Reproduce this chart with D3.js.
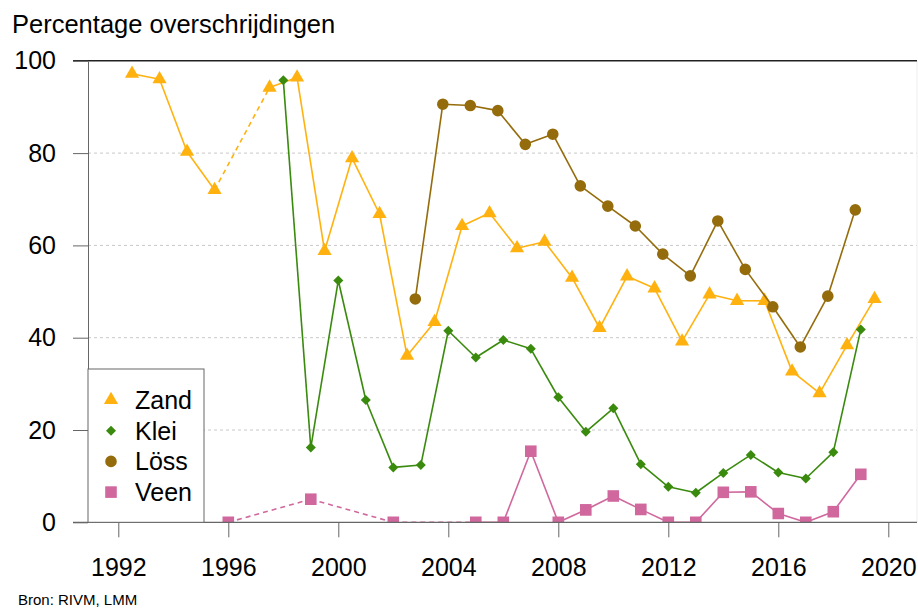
<!DOCTYPE html>
<html>
<head>
<meta charset="utf-8">
<script src="https://d3js.org/d3.v7.min.js"></script>
<style>
  body { margin: 0; background: #fff; }
  svg { display: block; font-family: "Liberation Sans", Arial, Helvetica, sans-serif; }
</style>
</head>
<body>
<div id="chart"></div>
<script>
// soil types
var categories = ["Zand", "Klei", "Löss", "Veen"];

// Zand is plotted half a year to the right, Löss slightly left of the year
var zandYears = [1992.5, 1993.5, 1994.5, 1995.5, 1997.5, 1998.5, 1999.5, 2000.5, 2001.5, 2002.5,
  2003.5, 2004.5, 2005.5, 2006.5, 2007.5, 2008.5, 2009.5, 2010.5, 2011.5, 2012.5,
  2013.5, 2014.5, 2015.5, 2016.5, 2017.5, 2018.5, 2019.5];
var zandValues = [97.2, 96.0, 80.3, 72.0, 94.2, 96.4, 58.8, 78.9, 66.8, 36.1,
  43.4, 64.2, 67.0, 59.4, 60.8, 53.0, 42.1, 53.3, 50.7, 39.2,
  49.4, 48.0, 48.0, 32.7, 28.0, 38.4, 48.4];

var kleiYears = [1998, 1999, 2000, 2001, 2002, 2003, 2004, 2005, 2006, 2007, 2008,
  2009, 2010, 2011, 2012, 2013, 2014, 2015, 2016, 2017, 2018, 2019];
var kleiValues = [95.8, 16.2, 52.4, 26.5, 11.9, 12.4, 41.5, 35.7, 39.5, 37.6, 27.1,
  19.6, 24.7, 12.6, 7.7, 6.4, 10.7, 14.6, 10.8, 9.5, 15.2, 41.8];

var lossYears = [2002.8, 2003.8, 2004.8, 2005.8, 2006.8, 2007.8, 2008.8, 2009.8, 2010.8,
  2011.8, 2012.8, 2013.8, 2014.8, 2015.8, 2016.8, 2017.8, 2018.8];
var lossValues = [48.4, 90.6, 90.3, 89.2, 81.9, 84.1, 72.9, 68.5, 64.2,
  58.1, 53.4, 65.3, 54.8, 46.7, 38.0, 49.0, 67.7];

var veenYears = [1996, 1999, 2002, 2005, 2006, 2007, 2008, 2009, 2010, 2011, 2012,
  2013, 2014, 2015, 2016, 2017, 2018, 2019];
var veenValues = [0, 5.0, 0, 0, 0, 15.4, 0, 2.7, 5.7, 2.8, 0,
  0, 6.5, 6.6, 1.9, 0, 2.3, 10.4];

var xTicks = [1992, 1996, 2000, 2004, 2008, 2012, 2016, 2020];
var yTicks = [0, 20, 40, 60, 80, 100];

var width = 918, height = 608;
var colors = { "Zand": "#ffb20f", "Klei": "#3a8a0e", "Löss": "#956c0b", "Veen": "#d0689e" };
var shapes = { "Zand": "triangle", "Klei": "diamond", "Löss": "circle", "Veen": "square" };

var series = [
  { name: "Zand", years: zandYears, values: zandValues },
  { name: "Klei", years: kleiYears, values: kleiValues },
  { name: "Löss", years: lossYears, values: lossValues },
  { name: "Veen", years: veenYears, values: veenValues }
];

var x = d3.scaleLinear().domain([1992, 2020]).range([118.3, 888.3]);
var y = d3.scaleLinear().domain([0, 100]).range([522.3, 60.8]);
var plotLeft = 88, plotRight = 917;

function marker(shape) {
  if (shape == "triangle") {
    var r = 8.2;
    return "M0," + (-r) + "L" + (0.866 * r) + "," + (r / 2) + "L" + (-0.866 * r) + "," + (r / 2) + "Z";
  }
  if (shape == "diamond") {
    var d = 5;
    return "M0," + (-d) + "L" + d + ",0L0," + d + "L" + (-d) + ",0Z";
  }
  if (shape == "square") {
    var s = 5.8;
    return "M" + (-s) + "," + (-s) + "H" + s + "V" + s + "H" + (-s) + "Z";
  }
  var c = 5.8;
  return "M" + (-c) + ",0A" + c + "," + c + " 0 1,0 " + c + ",0A" + c + "," + c + " 0 1,0 " + (-c) + ",0Z";
}

var svg = d3.select("#chart").append("svg")
  .attr("width", width)
  .attr("height", height);

svg.append("clipPath").attr("id", "plotclip")
  .append("rect")
  .attr("x", plotLeft).attr("y", y(100) - 12)
  .attr("width", plotRight - plotLeft).attr("height", y(0) - y(100) + 12);

// title and source
svg.append("text")
  .attr("x", 12).attr("y", 33)
  .style("font-size", "25.5px")
  .text("Percentage overschrijdingen");
svg.append("text")
  .attr("x", 18).attr("y", 605)
  .style("font-size", "15px")
  .text("Bron: RIVM, LMM");

// gridlines
svg.append("g").selectAll("line")
  .data(yTicks.filter(function(t) { return t > 0 && t < 100; }))
  .enter().append("line")
  .attr("x1", plotLeft).attr("x2", plotRight)
  .attr("y1", function(d) { return y(d); })
  .attr("y2", function(d) { return y(d); })
  .attr("stroke", "#c8c8c8")
  .attr("stroke-dasharray", "3,3");

// right border (faint) and top line
svg.append("line")
  .attr("x1", plotRight).attr("x2", plotRight)
  .attr("y1", y(100)).attr("y2", y(0))
  .attr("stroke", "#eeeeee");
svg.append("line")
  .attr("x1", 73).attr("x2", plotRight)
  .attr("y1", y(100)).attr("y2", y(100))
  .attr("stroke", "#222").attr("stroke-width", 1.4);

// series
var plot = svg.append("g").attr("clip-path", "url(#plotclip)");
series.forEach(function(s) {
  var pts = s.years.map(function(yr, i) { return { year: yr, value: s.values[i] }; });
  var segs = [];
  for (var i = 1; i < pts.length; i++) {
    segs.push({ a: pts[i - 1], b: pts[i], gap: pts[i].year - pts[i - 1].year > 1.01 });
  }
  var g = plot.append("g");
  g.selectAll("line").data(segs).enter().append("line")
    .attr("x1", function(d) { return x(d.a.year); })
    .attr("y1", function(d) { return y(d.a.value); })
    .attr("x2", function(d) { return x(d.b.year); })
    .attr("y2", function(d) { return y(d.b.value); })
    .attr("stroke", colors[s.name])
    .attr("stroke-width", 1.6)
    .attr("stroke-dasharray", function(d) { return d.gap ? "5,4" : null; });
  g.selectAll("path").data(pts).enter().append("path")
    .attr("transform", function(d) { return "translate(" + x(d.year) + "," + y(d.value) + ")"; })
    .attr("d", marker(shapes[s.name]))
    .attr("fill", colors[s.name]);
});

// y axis
var yAxis = svg.append("g")
  .attr("transform", "translate(" + plotLeft + ",0)")
  .call(d3.axisLeft(y).tickValues(yTicks).tickSize(15).tickPadding(17).tickSizeOuter(0));
yAxis.select(".domain").attr("stroke", "#666");
yAxis.selectAll(".tick line").attr("stroke", "#666");
yAxis.selectAll("text").style("font-size", "25px").attr("fill", "#000")
  .style("font-family", "'Liberation Sans', Arial, sans-serif");

// x axis
var xAxis = svg.append("g")
  .attr("transform", "translate(0," + y(0) + ")")
  .call(d3.axisBottom(x).tickValues(xTicks).tickFormat(d3.format("d")).tickSize(15).tickPadding(21));
xAxis.select(".domain").remove();
xAxis.selectAll(".tick line").attr("stroke", "#666");
xAxis.selectAll("text").style("font-size", "25px").attr("fill", "#000")
  .style("font-family", "'Liberation Sans', Arial, sans-serif");
svg.append("line")
  .attr("x1", 73).attr("x2", plotRight)
  .attr("y1", y(0)).attr("y2", y(0))
  .attr("stroke", "#666").attr("stroke-width", 1.2);

// legend
var legend = svg.append("g");
legend.append("rect")
  .attr("x", plotLeft).attr("y", 369)
  .attr("width", 204 - plotLeft).attr("height", y(0) - 369)
  .attr("fill", "#fff").attr("stroke", "#666");
var rows = legend.selectAll("g.item").data(categories).enter().append("g")
  .attr("class", "item")
  .attr("transform", function(d, i) { return "translate(111," + (400 + i * 30.7) + ")"; });
rows.append("path")
  .attr("d", function(d) { return marker(shapes[d]); })
  .attr("fill", function(d) { return colors[d]; });
rows.append("text")
  .attr("x", 24).attr("dy", "0.36em")
  .style("font-size", "25px")
  .text(function(d) { return d; });
</script>
</body>
</html>
